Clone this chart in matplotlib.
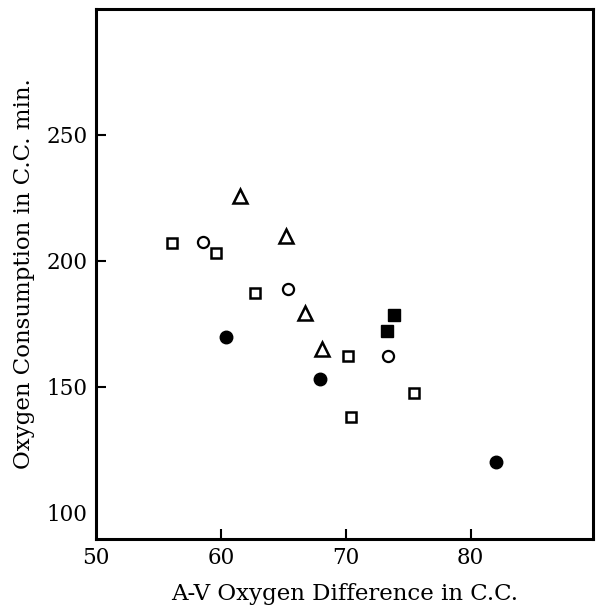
import matplotlib
matplotlib.use("Agg")
import matplotlib.pyplot as plt

# Data
sq_open_x = [56.1, 59.6, 62.7, 70.2, 70.4, 75.5]
sq_open_y = [206.9, 203.0, 187.3, 162.1, 138.0, 147.3]
circ_open_x = [58.6, 65.4, 73.4]
circ_open_y = [207.3, 188.6, 162.1]
tri_x = [61.5, 65.2, 66.7, 68.1]
tri_y = [225.5, 209.8, 179.1, 164.8]
circ_fill_x = [60.4, 67.9, 82.0]
circ_fill_y = [169.8, 153.0, 120.1]
sq_fill_x = [73.3, 73.9]
sq_fill_y = [172.2, 178.4]

xticks = [50, 60, 70, 80]
yticks = [100, 150, 200, 250]

plt.rcParams['font.family'] = ['DejaVu Serif']

fig = plt.figure(figsize=(6.01, 6.09), dpi=100)
ax = fig.add_axes([96/601, 1-539/609, (593-96)/601, (539-8.5)/609])

ax.plot(sq_open_x, sq_open_y, ls='none', marker='s', ms=7, mfc='white', mec='black', mew=1.8)
ax.plot(circ_open_x, circ_open_y, ls='none', marker='o', ms=8, mfc='white', mec='black', mew=1.6)
ax.plot(tri_x, tri_y, ls='none', marker='^', ms=10, mfc='white', mec='black', mew=1.8)
ax.plot(circ_fill_x, circ_fill_y, ls='none', marker='o', ms=9, mfc='black', mec='black')
ax.plot(sq_fill_x, sq_fill_y, ls='none', marker='s', ms=8, mfc='black', mec='black')

ax.set_xlim(50, 89.8)
ax.set_ylim(89.5, 300)
ax.set_xticks(xticks)
ax.set_yticks(yticks)
ax.tick_params(direction='in', length=7, width=1.5, labelsize=15.5, pad=6)
for t in ax.xaxis.get_major_ticks()[:1]:
    t.tick1line.set_visible(False)
for t in ax.yaxis.get_major_ticks()[:1]:
    t.tick1line.set_visible(False)
for s in ax.spines.values():
    s.set_linewidth(2.2)

ax.set_xlabel('A-V Oxygen Difference in C.C.', fontsize=16.5, labelpad=10)
ax.set_ylabel('Oxygen Consumption in C.C. min.', fontsize=16.5, labelpad=8)

fig.savefig('out.png', dpi=100)
